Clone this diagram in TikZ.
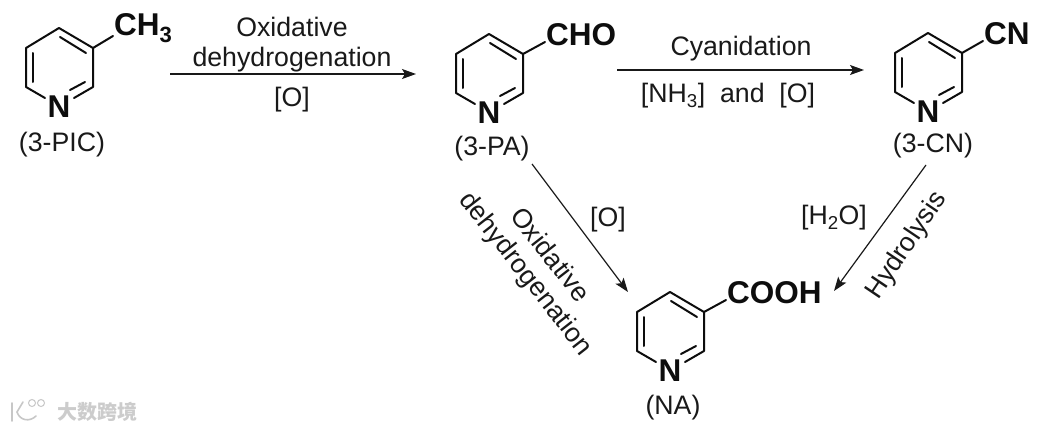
\documentclass[tikz,border=0pt]{standalone}
\usepackage{fontspec}
\setmainfont{Liberation Sans}
\newfontfamily\cjkwm{Noto Sans CJK SC}
\usetikzlibrary{arrows.meta}
\tikzset{
  x=1pt,y=-1pt,
  bond/.style={line width=2pt,line cap=round,line join=round,black!95},
  arrowline/.style={line width=1.2pt,black!90,-{Stealth[length=14pt,width=10pt,inset=3pt]}},
  atom/.style={font=\fontsize{31.5}{32}\selectfont\bfseries,inner sep=0pt,text=black!95},
  lab/.style={font=\fontsize{26.7}{30}\selectfont,inner sep=0pt,align=center,text=black!90},
}
% #1 prefix, #2 x of top vertex, #3 y of top vertex, #4 substituent text, #5 substituent x offset
\newcommand{\pyridine}[5]{%
  \begin{scope}[shift={(#2,#3)}]
    \coordinate (#1t) at (0,0);
    \coordinate (#1ur) at (34,20);
    \coordinate (#1lr) at (34,59);
    \coordinate (#1ll) at (-33,59);
    \coordinate (#1ul) at (-33,20);
    \coordinate (#1nl) at (-14,70);
    \coordinate (#1nr) at (15,70);
    \node[atom] (#1N) at (0,79) {N};
    \node[atom,anchor=west] (#1S) at (#5,0.5) {#4};
    \draw[bond] (#1nl) -- (#1ll) -- (#1ul) -- (#1t) -- (#1ur) -- (#1lr) -- (#1nr);
    \draw[bond] (-26,25) -- (-26,54);
    \draw[bond] (1,9) -- (27,25);
    \draw[bond] (11,62) -- (26,54);
    \draw[bond] (#1ur) -- (#5-1,8);
  \end{scope}}
\begin{document}
\begin{tikzpicture}
\useasboundingbox (0,0) rectangle (1047,431);
\fill[white] (0,0) rectangle (1047,431);

\pyridine{a}{59}{28}{CH\textsubscript{3}}{55}
\pyridine{b}{489}{34}{CHO}{57}
\pyridine{c}{928}{33}{CN}{56}
\pyridine{d}{670}{292}{COOH}{57}

\node[lab] (n1) at (62,145) {(3-PIC)};
\node[lab] (n2) at (492,149) {(3-PA)};
\node[lab] (n3) at (933,146) {(3-CN)};
\node[lab] (n4) at (673,408) {(NA)};

\coordinate (s1) at (170,74); \coordinate (e1) at (416,74);
\coordinate (s2) at (617,70); \coordinate (e2) at (864,70);
\coordinate (s3) at (532,164); \coordinate (e3) at (628,292);
\coordinate (s4) at (926,165); \coordinate (e4) at (834,291);
\draw[arrowline] (s1) -- (e1);
\draw[arrowline] (s2) -- (e2);
\draw[arrowline] (s3) -- (e3);
\draw[arrowline] (s4) -- (e4);

\node[lab] (t1) at (292,45) {Oxidative\\dehydrogenation};
\node[lab] (t2) at (292,100) {[O]};
\node[lab] (t3) at (741,49) {Cyanidation};
\node[lab] (t4) at (728,96) {[NH\textsubscript{3}]~ and~ [O]};
\node[lab] (t5) at (608,220) {[O]};
\node[lab] (t6) at (834,218) {[H\textsubscript{2}O]};
\node[lab,rotate=-52] (t7) at (537,265) {Oxidative\\dehydrogenation};
\node[lab,rotate=56] (t8) at (907,246) {Hydrolysis};

\node[inner sep=0pt,font=\fontsize{20}{20}\cjkwm\bfseries,text=black!20] (wm) at (97,412) {大数跨境};
\draw[black!22,line width=1.6pt,line cap=round] (12,403) -- (12,421) (23,402) -- (17,412) .. controls (20,421) and (30,422) .. (36,416);
\draw[black!22,line width=1pt] (32,403) circle[radius=3.5] (41,403) circle[radius=3.5];
\end{tikzpicture}
\end{document}
